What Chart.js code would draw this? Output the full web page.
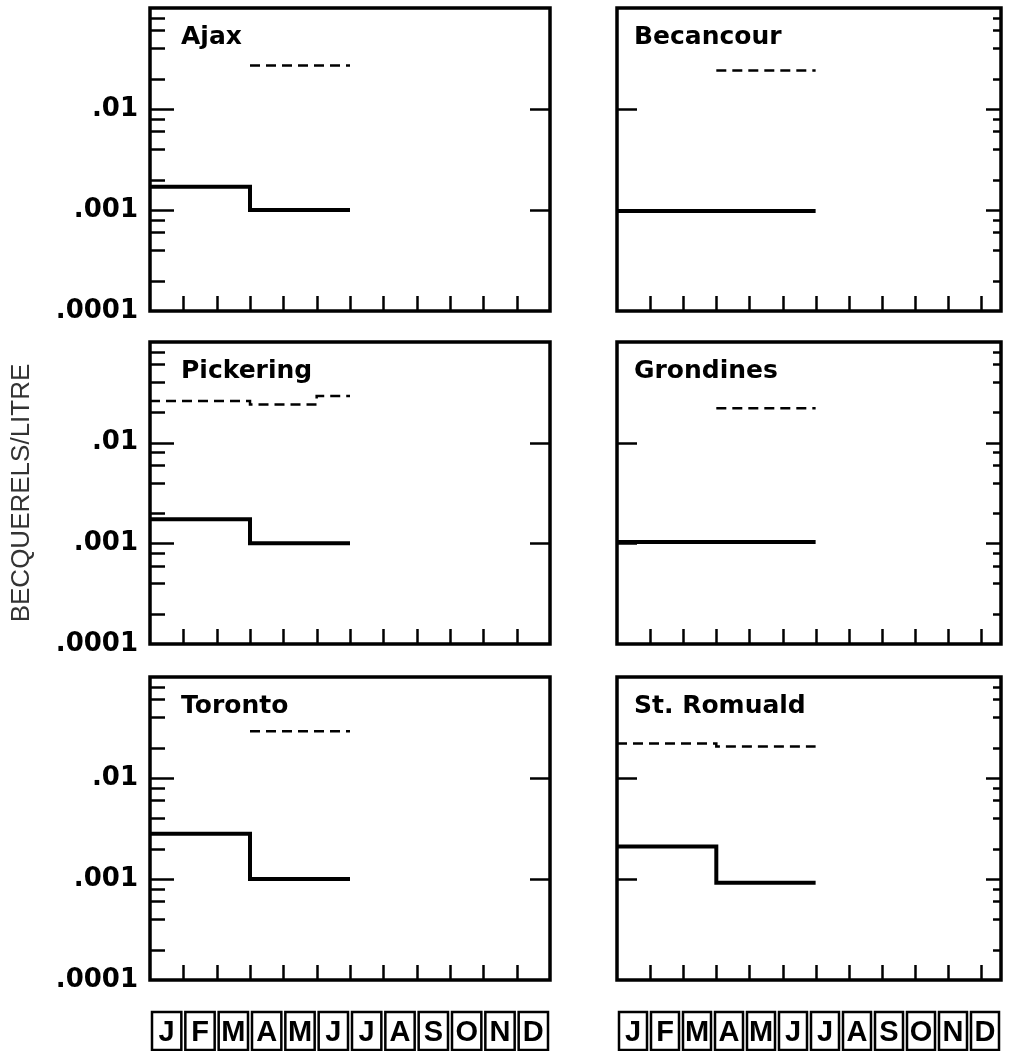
<!DOCTYPE html>
<html>
<head>
<meta charset="utf-8">
<script src="https://cdn.jsdelivr.net/npm/chart.js@4/dist/chart.umd.min.js"></script>
<style>
  html, body { margin: 0; padding: 0; background: #fff; }
  #wrap { position: relative; width: 1009px; height: 1051px; overflow: hidden; background: #fff; }
  #wrap canvas { position: absolute; }
</style>
</head>
<body>
<div id="wrap"></div>
<script>
// Month letters along the time axis
const months = ['J', 'F', 'M', 'A', 'M', 'J', 'J', 'A', 'S', 'O', 'N', 'D'];

// Station names, one per panel
const stations = ['Ajax', 'Becancour', 'Pickering', 'Grondines', 'Toronto', 'St. Romuald'];

// Monthly levels, Jan..Jun, in becquerels per litre (null = no value for that month)
const ajaxSolid        = [0.0017, 0.0017, 0.0017, 0.001, 0.001, 0.001];
const ajaxDashed       = [null, null, null, 0.027, 0.027, 0.027];
const becancourSolid   = [0.00098, 0.00098, 0.00098, 0.00098, 0.00098, 0.00098];
const becancourDashed  = [null, null, null, 0.024, 0.024, 0.024];
const pickeringSolid   = [0.00173, 0.00173, 0.00173, 0.001, 0.001, 0.001];
const pickeringDashed  = [0.026, 0.026, 0.026, 0.024, 0.024, 0.029];
const grondinesSolid   = [0.00103, 0.00103, 0.00103, 0.00103, 0.00103, 0.00103];
const grondinesDashed  = [null, null, null, 0.022, 0.022, 0.022];
const torontoSolid     = [0.0028, 0.0028, 0.0028, 0.001, 0.001, 0.001];
const torontoDashed    = [null, null, null, 0.029, 0.029, 0.029];
const stRomualdSolid   = [0.0021, 0.0021, 0.0021, 0.00092, 0.00092, 0.00092];
const stRomualdDashed  = [0.022, 0.022, 0.022, 0.0205, 0.0205, 0.0205];

// Logarithmic value axis
const yMin = 0.0001;
const yMax = 0.1;
const yTickValues = [0.0001, 0.001, 0.01];
const yTickLabels = ['.0001', '.001', '.01'];
const minorFactors = [2, 4, 6, 8];

const yTitle = 'BECQUERELS/LITRE';

// ---------------------------------------------------------------------------
// Panel arrangement: two columns, three rows
const panels = [
  { title: stations[0], solid: ajaxSolid,      dashed: ajaxDashed,      col: 0, row: 0 },
  { title: stations[1], solid: becancourSolid, dashed: becancourDashed, col: 1, row: 0 },
  { title: stations[2], solid: pickeringSolid, dashed: pickeringDashed, col: 0, row: 1 },
  { title: stations[3], solid: grondinesSolid, dashed: grondinesDashed, col: 1, row: 1 },
  { title: stations[4], solid: torontoSolid,   dashed: torontoDashed,   col: 0, row: 2 },
  { title: stations[5], solid: stRomualdSolid, dashed: stRomualdDashed, col: 1, row: 2 }
];

const colGeom = [
  { x: 0,   w: 560, padL: 0,  padR: 10, yW: 150, xMax: 12,   labels: true,  titleDx: 31,
    leftMinor: 15, leftMajor: 24, rightMinor: 0, rightMajor: 20 },
  { x: 600, w: 409, padL: 17, padR: 8,  yW: 0,   xMax: 11.6, labels: false, titleDx: 17,
    leftMinor: 0, leftMajor: 20, rightMinor: 8, rightMajor: 15 }
];
const rowGeom = [
  { y: 0,   h: 330, padT: 8,  padB: 19, months: false },
  { y: 330, h: 330, padT: 12, padB: 16, months: false },
  { y: 660, h: 391, padT: 17, padB: 0,  months: true }
];

// Turn monthly values into points for a stepped line (each value holds for its month)
function stepPoints(values) {
  const pts = values.map((v, i) => ({ x: i, y: v }));
  let last = null;
  values.forEach(v => { if (v != null) last = v; });
  pts.push({ x: values.length, y: last });
  return pts;
}

// Frame, inward tick marks, station name and boxed month letters
const panelDecor = {
  id: 'panelDecor',
  afterDraw(chart, args, opts) {
    const { ctx, chartArea: a, scales } = chart;
    const y = scales.y, x = scales.x;
    ctx.save();
    ctx.strokeStyle = '#000';
    ctx.fillStyle = '#000';
    ctx.lineCap = 'butt';

    const minors = [];
    for (let d = -4; d <= -2; d++) {
      minorFactors.forEach(f => minors.push(f * Math.pow(10, d)));
    }
    const majors = yTickValues.filter(v => v > yMin && v < yMax);

    const yTick = (values, side, len) => {
      if (!len) return;
      values.forEach(v => {
        const py = Math.round(y.getPixelForValue(v)) + 0.5;
        ctx.beginPath();
        if (side === 'left') { ctx.moveTo(a.left, py); ctx.lineTo(a.left + len, py); }
        else { ctx.moveTo(a.right, py); ctx.lineTo(a.right - len, py); }
        ctx.stroke();
      });
    };
    ctx.lineWidth = 2.5;
    yTick(minors, 'left', opts.leftMinor);
    yTick(majors, 'left', opts.leftMajor);
    yTick(minors, 'right', opts.rightMinor);
    yTick(majors, 'right', opts.rightMajor);

    // month boundaries along the bottom edge
    for (let i = 1; i < x.max; i++) {
      const px = Math.round(x.getPixelForValue(i)) + 0.5;
      ctx.beginPath();
      ctx.moveTo(px, a.bottom);
      ctx.lineTo(px, a.bottom - 15);
      ctx.stroke();
    }

    // frame
    ctx.lineWidth = 3.5;
    ctx.strokeRect(a.left, a.top, a.right - a.left, a.bottom - a.top);

    // station name
    ctx.font = 'bold 25px "DejaVu Sans"';
    ctx.textAlign = 'left';
    ctx.textBaseline = 'alphabetic';
    ctx.fillText(opts.title, a.left + opts.titleDx, a.top + 36);

    // a box round each month letter
    const mScale = scales.xMonths;
    if (mScale) {
      const half = (a.right - a.left) / (months.length * 2);
      ctx.lineWidth = 2.5;
      months.forEach((m, i) => {
        const cx = mScale.getPixelForValue(i);
        ctx.strokeRect(cx - half + 2, a.bottom + 32, 2 * half - 4, 38);
      });
    }
    ctx.restore();
  }
};

const wrap = document.getElementById('wrap');

panels.forEach(p => {
  const cg = colGeom[p.col];
  const rg = rowGeom[p.row];
  const canvas = document.createElement('canvas');
  canvas.width = cg.w;
  canvas.height = rg.h;
  canvas.style.left = cg.x + 'px';
  canvas.style.top = rg.y + 'px';
  wrap.appendChild(canvas);

  const scales = {
    x: { type: 'linear', min: 0, max: cg.xMax, display: false },
    y: {
      type: 'logarithmic',
      min: yMin,
      max: yMax,
      display: cg.labels,
      grid: { display: false },
      border: { display: false },
      afterBuildTicks: s => { s.ticks = yTickValues.map(v => ({ value: v })); },
      afterFit: s => {
        if (cg.labels) s.width = cg.yW;
        s.paddingTop = 0;
        s.paddingBottom = 0;
      },
      ticks: {
        padding: 4,
        color: '#000',
        font: { family: 'DejaVu Sans', weight: 'bold', size: 26 },
        callback: v => {
          const k = yTickValues.indexOf(v);
          return k >= 0 ? yTickLabels[k] : '';
        }
      },
      title: {
        display: p.col === 0 && p.row === 1,
        text: yTitle,
        color: '#333',
        font: { family: 'Liberation Sans', size: 26, weight: 'normal' },
        padding: { top: 6, bottom: 0 }
      }
    }
  };

  if (rg.months) {
    scales.xMonths = {
      type: 'category',
      labels: months,
      offset: true,
      position: 'bottom',
      grid: { display: false },
      border: { display: false },
      afterFit: s => {
        s.height = 71;
        s.paddingLeft = 0;
        s.paddingRight = 0;
      },
      ticks: {
        padding: 28,
        color: '#000',
        maxRotation: 0,
        minRotation: 0,
        autoSkip: false,
        font: { family: 'Liberation Sans', weight: 'bold', size: 29 }
      }
    };
  }

  new Chart(canvas, {
    type: 'line',
    data: {
      datasets: [
        {
          data: stepPoints(p.solid),
          borderColor: '#000',
          borderWidth: 4,
          pointRadius: 0,
          stepped: 'before',
          fill: false,
          borderCapStyle: 'butt'
        },
        {
          data: stepPoints(p.dashed),
          borderColor: '#000',
          borderWidth: 2.5,
          borderDash: [10, 6],
          pointRadius: 0,
          stepped: 'before',
          fill: false,
          borderCapStyle: 'butt'
        }
      ]
    },
    options: {
      responsive: false,
      animation: false,
      events: [],
      layout: { padding: { left: cg.padL, right: cg.padR, top: rg.padT, bottom: rg.padB } },
      scales: scales,
      plugins: {
        legend: { display: false },
        tooltip: { enabled: false },
        panelDecor: {
          title: p.title,
          titleDx: cg.titleDx,
          leftMinor: cg.leftMinor,
          leftMajor: cg.leftMajor,
          rightMinor: cg.rightMinor,
          rightMajor: cg.rightMajor
        }
      }
    },
    plugins: [panelDecor]
  });
});
</script>
</body>
</html>
